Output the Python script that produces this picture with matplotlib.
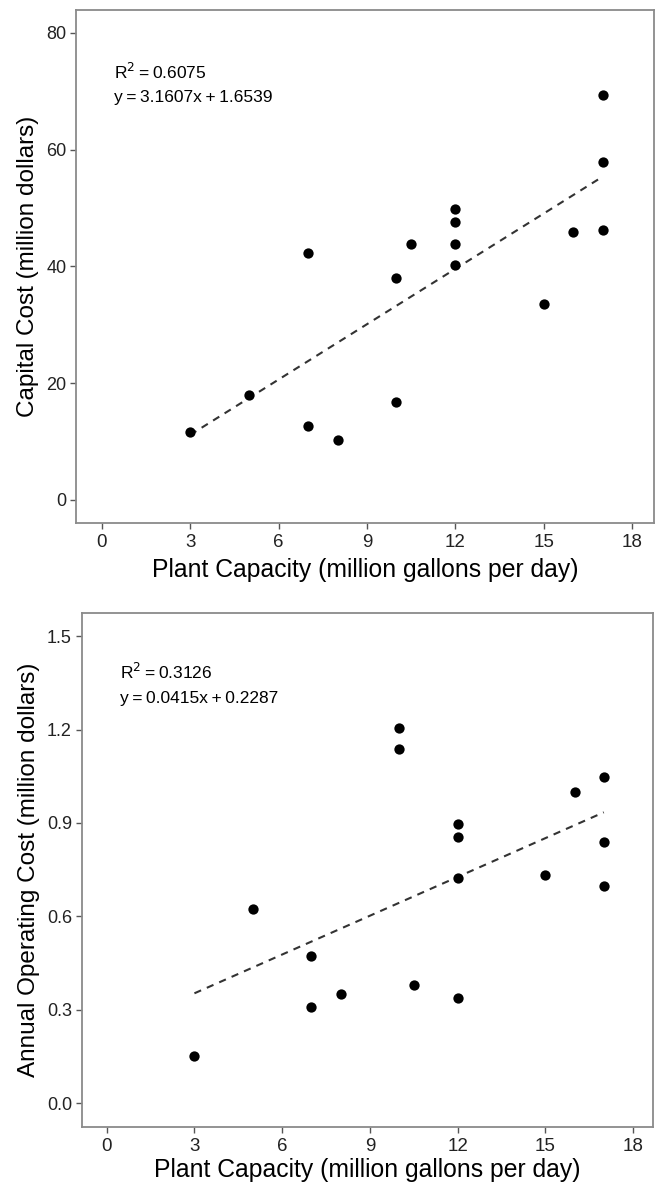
import numpy as np
import matplotlib
matplotlib.use("Agg")
from matplotlib import pyplot as plt

# plant capacity (million gallons per day)
capacity = [3, 5, 7, 7, 8, 10, 10, 10.5, 12, 12, 12, 12, 15, 16, 17, 17, 17]
# capital cost (million dollars), same order as capacity
capital = [11.7, 18.0, 42.3, 12.7, 10.2, 38.0, 16.7, 43.9, 49.9, 47.6, 43.9, 40.2,
           33.5, 45.9, 69.3, 57.9, 46.2]
# annual operating cost (million dollars)
operating = [0.151, 0.623, 0.473, 0.309, 0.350, 1.204, 1.137, 0.380, 0.897, 0.855,
             0.724, 0.339, 0.733, 0.999, 1.048, 0.838, 0.699]

capital_fit = (3.1607, 1.6539, 0.6075)
operating_fit = (0.0415, 0.2287, 0.3126)

xticks = [0, 3, 6, 9, 12, 15, 18]
capital_ticks = [0, 20, 40, 60, 80]
operating_ticks = [0.0, 0.3, 0.6, 0.9, 1.2, 1.5]

plt.rcParams['font.family'] = ['Liberation Sans', 'DejaVu Sans']

W, H = 659, 1184
fig = plt.figure(figsize=(W / 100, H / 100), dpi=100)


def px_axes(left, top, right, bottom):
    return fig.add_axes([left / W, 1 - bottom / H, (right - left) / W, (bottom - top) / H])


def style(ax):
    for s in ax.spines.values():
        s.set_color("#8a8a8a")
        s.set_linewidth(1.3)
    ax.tick_params(axis="both", direction="out", length=4, width=1, color="#555555",
                   labelcolor="#222222", pad=3)
    ax.tick_params(axis="x", labelsize=13.5, pad=4)
    ax.tick_params(axis="y", labelsize=13)


def panel(ax, y, fit, yticks, ylabel, xlim, ylim, txt_xy, fmt, xpad):
    slope, icpt, r2 = fit
    ax.scatter(capacity, y, s=55, color="black", zorder=3, linewidths=0)
    xs = np.array([min(capacity), max(capacity)])
    ax.plot(xs, slope * xs + icpt, color="#333333", lw=1.5, ls=(0, (3.5, 3)), zorder=2)
    ax.set_xlim(*xlim)
    ax.set_ylim(*ylim)
    ax.set_xticks(xticks)
    ax.set_yticks(yticks)
    ax.set_yticklabels([fmt % v for v in yticks])
    ax.set_xlabel("Plant Capacity (million gallons per day)", fontsize=17.8, labelpad=xpad)
    ax.set_ylabel(ylabel, fontsize=17.5, labelpad=5)
    tx, ty1, ty2 = txt_xy
    ax.text(tx, ty1, "R$^{2}$\u2009=\u20090.%s" % ("%.4f" % r2)[2:], fontsize=12.5,
            va="center", ha="left")
    ax.text(tx, ty2, "y\u2009=\u2009%.4fx\u2009+\u2009%.4f" % (slope, icpt), fontsize=12.5,
            va="center", ha="left")
    style(ax)


ax1 = px_axes(76, 10, 654, 523.3)
panel(ax1, capital, capital_fit, capital_ticks, "Capital Cost (million dollars)",
      (-0.872, 18.735), (-4, 83.9), (0.42, 73.3, 68.9), "%d", 5)

ax2 = px_axes(81.7, 612.7, 653.5, 1126.7)
panel(ax2, operating, operating_fit, operating_ticks, "Annual Operating Cost (million dollars)",
      (-0.855, 18.70), (-0.075, 1.575), (0.45, 1.386, 1.30), "%.1f", 2)

fig.savefig("out.png", dpi=100, facecolor="white")
